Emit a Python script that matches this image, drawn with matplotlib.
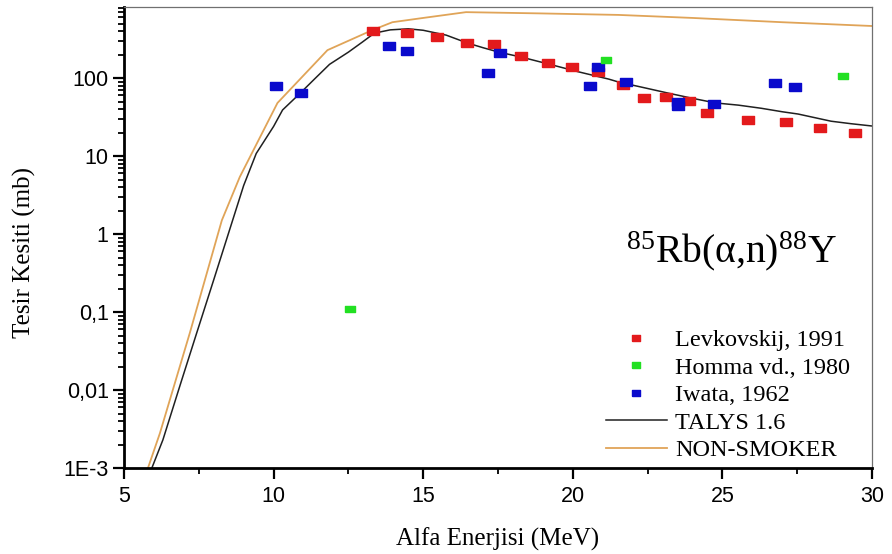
import numpy as np
import matplotlib.pyplot as plt
from matplotlib.lines import Line2D
from matplotlib.ticker import FixedLocator, FixedFormatter, LogLocator, NullFormatter

plt.rcParams['mathtext.fontset'] = 'custom'
plt.rcParams['mathtext.rm'] = 'Liberation Serif'
plt.rcParams['mathtext.it'] = 'Liberation Serif'

# Levkovskij, 1991
lev_x = [13.33, 14.47, 15.46, 16.47, 17.37, 18.27, 19.17, 19.97, 20.83, 21.67,
         22.37, 23.13, 23.87, 24.47, 25.87, 27.13, 28.27, 29.43]
lev_y = [400, 378, 336, 284, 276, 190, 154, 140, 121, 81,
         55, 57, 51, 35.5, 29, 27, 23, 19.7]

# Homma vd., 1980
hom_x = [12.55, 21.1, 29.03]
hom_y = [0.11, 170, 106]

# Iwata, 1962
iwa_x = [10.07, 10.9, 13.87, 14.47, 17.17, 17.57, 20.57, 20.83, 21.77,
         23.53, 23.53, 24.73, 26.77, 27.43]
iwa_y = [78, 63.5, 259, 222, 116, 211, 80, 138, 88.5,
         48.7, 44, 47, 86, 77.4]

# TALYS 1.6
tal_x = [5.93, 6.3, 6.9, 7.43, 8.0, 8.63, 9.0, 9.42, 10.0, 10.3, 10.87, 11.4,
         11.87, 12.5, 12.97, 13.37, 13.9, 14.5, 15.0, 15.77, 16.47, 17.0,
         17.53, 18.3, 19.2, 20.2, 21.2, 21.53, 22.4, 23.2, 24.0, 24.77,
         25.53, 26.3, 27.0, 27.53, 28.63, 29.3, 30]
tal_y = [0.001, 0.0023, 0.0124, 0.054, 0.26, 1.5, 4.2, 10.8, 24, 39, 63, 100,
         150, 215, 290, 377, 415, 428, 410, 355, 282, 245,
         215, 185, 151, 120, 97, 89, 75, 64, 55, 48,
         45, 41, 37, 34.6, 28, 26, 24.3]

# NON-SMOKER
ns_x = [5.8, 6.2, 7.2, 8.27, 8.87, 10.13, 11.8, 13.3, 13.97, 15.0, 16.43,
        18.87, 21.53, 24.0, 27.0, 30]
ns_y = [0.001, 0.0028, 0.054, 1.5, 5.4, 48, 228, 412, 520, 590, 700,
        675, 645, 590, 520, 465]

y_ticks = [1e-3, 1e-2, 1e-1, 1, 10, 100]
y_labels = ['1E-3', '0,01', '0,1', '1', '10', '100']

red = '#E31A1C'
green = '#22E022'
blue = '#0A0ACC'
black = '#202020'
orange = '#E0A458'

fig = plt.figure(figsize=(8.92, 5.54), dpi=100)
ax = fig.add_axes([0.139, 0.155, 0.8386, 0.832])

rect = [(-1.2, -0.85), (1.2, -0.85), (1.2, 0.85), (-1.2, 0.85), (-1.2, -0.85)]

ax.plot(tal_x, tal_y, color=black, lw=1.1, zorder=2)
ax.plot(ns_x, ns_y, color=orange, lw=1.3, zorder=2)
ax.plot(lev_x, lev_y, ls='none', marker=rect, ms=8, color=red, zorder=3)
ax.errorbar(hom_x, hom_y, xerr=0.17, ls='none', marker=rect, ms=7,
            color=green, ecolor=green, elinewidth=3, capsize=0, zorder=3)
ax.plot(iwa_x, iwa_y, ls='none', marker=rect, ms=8, color=blue, zorder=3)

ax.set_yscale('log')
ax.set_xlim(5, 30)
ax.set_ylim(1e-3, 810)

ax.xaxis.set_major_locator(FixedLocator([5, 10, 15, 20, 25, 30]))
ax.xaxis.set_minor_locator(FixedLocator([7.5, 12.5, 17.5, 22.5, 27.5]))
ax.yaxis.set_major_locator(FixedLocator(y_ticks))
ax.yaxis.set_major_formatter(FixedFormatter(y_labels))
ax.yaxis.set_minor_locator(LogLocator(base=10, subs=np.arange(2, 10), numticks=20))
ax.yaxis.set_minor_formatter(NullFormatter())

for lbl in ax.get_xticklabels() + ax.get_yticklabels():
    lbl.set_fontfamily('Liberation Sans')
    lbl.set_fontsize(15.5)
ax.tick_params(which='major', direction='out', length=8, width=1.6, color='black', pad=3)
ax.tick_params(which='minor', direction='out', length=4, width=1.3, color='black')
ax.tick_params(axis='x', which='major', pad=5)

for s in ['left', 'bottom']:
    ax.spines[s].set_linewidth(2)
    ax.spines[s].set_color('black')
for s in ['top', 'right']:
    ax.spines[s].set_linewidth(0.9)
    ax.spines[s].set_color('#707070')

ax.set_xlabel('Alfa Enerjisi (MeV)', family='Liberation Serif', fontsize=18)
ax.set_ylabel('Tesir Kesiti (mb)', family='Liberation Serif', fontsize=18)
ax.xaxis.set_label_coords(0.5, -0.13)
ax.yaxis.set_label_coords(-0.118, 0.468)

ax.text(0.812, 0.47, '$^{85}$Rb(α,n)$^{88}$Y', transform=ax.transAxes,
        ha='center', va='center', fontsize=28.5, family='Liberation Serif')

sq = [(-1.2, -1), (1.2, -1), (1.2, 1), (-1.2, 1), (-1.2, -1)]
handles = [
    Line2D([], [], ls='none', marker=sq, ms=5.5, color=red),
    Line2D([], [], ls='none', marker=sq, ms=5.5, color=green),
    Line2D([], [], ls='none', marker=sq, ms=5.5, color=blue),
    Line2D([], [], color=black, lw=1.1),
    Line2D([], [], color=orange, lw=1.3),
]
labels = ['Levkovskij, 1991', 'Homma vd., 1980', 'Iwata, 1962', 'TALYS 1.6', 'NON-SMOKER']
ax.legend(handles, labels, loc='lower right', bbox_to_anchor=(1.0, -0.033), frameon=False,
          prop={'family': 'Liberation Serif', 'size': 17.5},
          handlelength=2.5, handletextpad=0.35, labelspacing=0.23)

fig.savefig('out.png', dpi=100)
